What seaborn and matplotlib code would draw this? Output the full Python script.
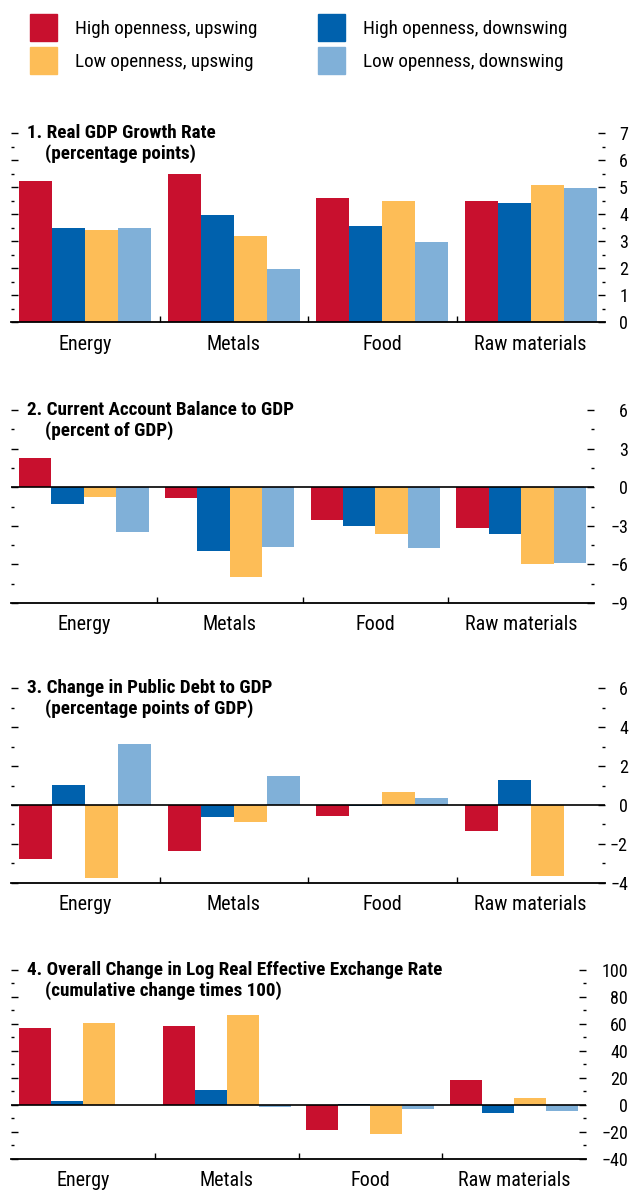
import pandas as pd
import matplotlib.pyplot as plt
import seaborn as sns
from matplotlib import font_manager
from matplotlib.patches import Patch
from matplotlib.ticker import MultipleLocator

# categories and series
categories = ["Energy", "Metals", "Food", "Raw materials"]
series = ["High openness, upswing", "High openness, downswing",
          "Low openness, upswing", "Low openness, downswing"]
colors = ["#C8102E", "#0061AD", "#FDBD57", "#80B0D8"]

# 1. Real GDP growth rate
gdp_high_up = [5.22, 5.50, 4.59, 4.48]
gdp_high_down = [3.48, 3.96, 3.55, 4.40]
gdp_low_up = [3.40, 3.18, 4.48, 5.10]
gdp_low_down = [3.50, 1.96, 2.96, 4.96]

# 2. Current account balance to GDP
ca_high_up = [2.30, -0.85, -2.57, -3.15]
ca_high_down = [-1.30, -4.97, -3.00, -3.65]
ca_low_up = [-0.80, -7.00, -3.65, -5.98]
ca_low_down = [-3.45, -4.66, -4.74, -5.90]

# 3. Change in public debt to GDP
debt_high_up = [-2.80, -2.38, -0.56, -1.32]
debt_high_down = [1.05, -0.61, -0.03, 1.30]
debt_low_up = [-3.78, -0.86, 0.69, -3.64]
debt_low_down = [3.12, 1.50, 0.34, 0.02]

# 4. Overall change in log REER
reer_high_up = [56.6, 58.8, -18.7, 18.5]
reer_high_down = [2.6, 10.6, 0.5, -5.8]
reer_low_up = [60.9, 66.9, -21.8, 4.8]
reer_low_down = [-0.3, -1.7, -3.1, -4.6]

panels = [
    ("1. Real GDP Growth Rate", "(percentage points)",
     [gdp_high_up, gdp_high_down, gdp_low_up, gdp_low_down], (0, 7), 1),
    ("2. Current Account Balance to GDP", "(percent of GDP)",
     [ca_high_up, ca_high_down, ca_low_up, ca_low_down], (-9, 6), 3),
    ("3. Change in Public Debt to GDP", "(percentage points of GDP)",
     [debt_high_up, debt_high_down, debt_low_up, debt_low_down], (-4, 6), 2),
    ("4. Overall Change in Log Real Effective Exchange Rate", "(cumulative change times 100)",
     [reer_high_up, reer_high_down, reer_low_up, reer_low_down], (-40, 100), 20),
]

sns.set_style("white")

# pick a narrow font if one is around
fonts = font_manager.fontManager.ttflist
names = {f.name for f in fonts}
stretch = "normal"
if "Liberation Sans Narrow" in names:
    family = "Liberation Sans Narrow"
elif "Roboto Condensed" in names:
    family = "Roboto Condensed"
elif any(f.name == "DejaVu Sans" and f.stretch == "condensed" for f in fonts):
    family = "DejaVu Sans"
    stretch = "condensed"
else:
    family = "Roboto"
plt.rcParams['font.family'] = [family, 'DejaVu Sans']
plt.rcParams['font.stretch'] = stretch
plt.rcParams['text.color'] = 'black'
plt.rcParams['xtick.color'] = 'black'
plt.rcParams['ytick.color'] = 'black'

W, H = 632, 1194
fig = plt.figure(figsize=(W / 100, H / 100), dpi=100)

# axes extents in pixels: (left, right, top, bottom); labels right-aligned at x=628
boxes_px = [
    (11, 605, 133.3, 322.3),
    (11, 594, 410.0, 603.0),
    (11, 605, 688.3, 882.7),
    (11, 586, 970.0, 1158.7),
]

for (title, subtitle, values, ylim, step), (x0, x1, y0, y1) in zip(panels, boxes_px):
    ax = fig.add_axes([x0 / W, 1 - y1 / H, (x1 - x0) / W, (y1 - y0) / H])
    rows = []
    for s, vals in zip(series, values):
        for c, v in zip(categories, vals):
            rows.append({"category": c, "series": s, "value": v})
    df = pd.DataFrame(rows)

    sns.barplot(data=df, x="category", y="value", hue="series",
                order=categories, hue_order=series, palette=colors,
                width=0.89, errorbar=None, linewidth=0, saturation=1,
                legend=False, ax=ax)

    ax.set_xlim(-0.5, 3.5)
    ax.set_ylim(*ylim)
    ax.set_xlabel("")
    ax.set_ylabel("")
    if ylim[0] < 0:
        ax.axhline(0, color="black", lw=1.2, zorder=3)

    for side in ["top", "left", "right"]:
        ax.spines[side].set_visible(False)
    ax.spines["bottom"].set_color("black")
    ax.spines["bottom"].set_linewidth(1.3)

    # x axis: category labels and group separators
    ax.set_xticks([0.5, 1.5, 2.5], minor=True)
    ax.tick_params(axis="x", which="major", length=0, pad=9, labelsize=14.5)
    ax.tick_params(axis="x", which="minor", bottom=True, direction="in",
                   length=4.5, width=1)

    # y axis: ticks both sides, labels on the right
    ax.yaxis.set_major_locator(MultipleLocator(step))
    ax.yaxis.set_minor_locator(MultipleLocator(step / 2))
    ax.tick_params(axis="y", which="both", direction="in", left=True, right=True,
                   labelleft=False, labelright=True, width=1)
    ax.tick_params(axis="y", which="major", length=5, pad=(628 - x1) * 0.72,
                   labelsize=13)
    ax.tick_params(axis="y", which="minor", length=2.5)
    for lab in ax.get_yticklabels():
        lab.set_horizontalalignment("right")

    ax.annotate(title, xy=(0, 1), xycoords="axes fraction", xytext=(11.5, 0),
                textcoords="offset points", ha="left", va="center",
                fontsize=13.75, fontweight="bold")
    ax.annotate(subtitle, xy=(0, 1), xycoords="axes fraction", xytext=(24.5, -14.5),
                textcoords="offset points", ha="left", va="center",
                fontsize=13.75, fontweight="bold")

# legend (column-wise: upswing pair first, then downswing)
handles = [Patch(color=colors[0]), Patch(color=colors[2]),
           Patch(color=colors[1]), Patch(color=colors[3])]
labels = [series[0], series[2], series[1], series[3]]
fig.legend(handles, labels, ncol=2, loc="upper left",
           bbox_to_anchor=(30 / W, 1 - 14 / H), frameon=False,
           fontsize=13.75, handlelength=1.41, handleheight=1.8,
           handletextpad=0.94, columnspacing=3.19, labelspacing=0.31,
           borderpad=0, borderaxespad=0)

fig.savefig("out.png", dpi=100)
